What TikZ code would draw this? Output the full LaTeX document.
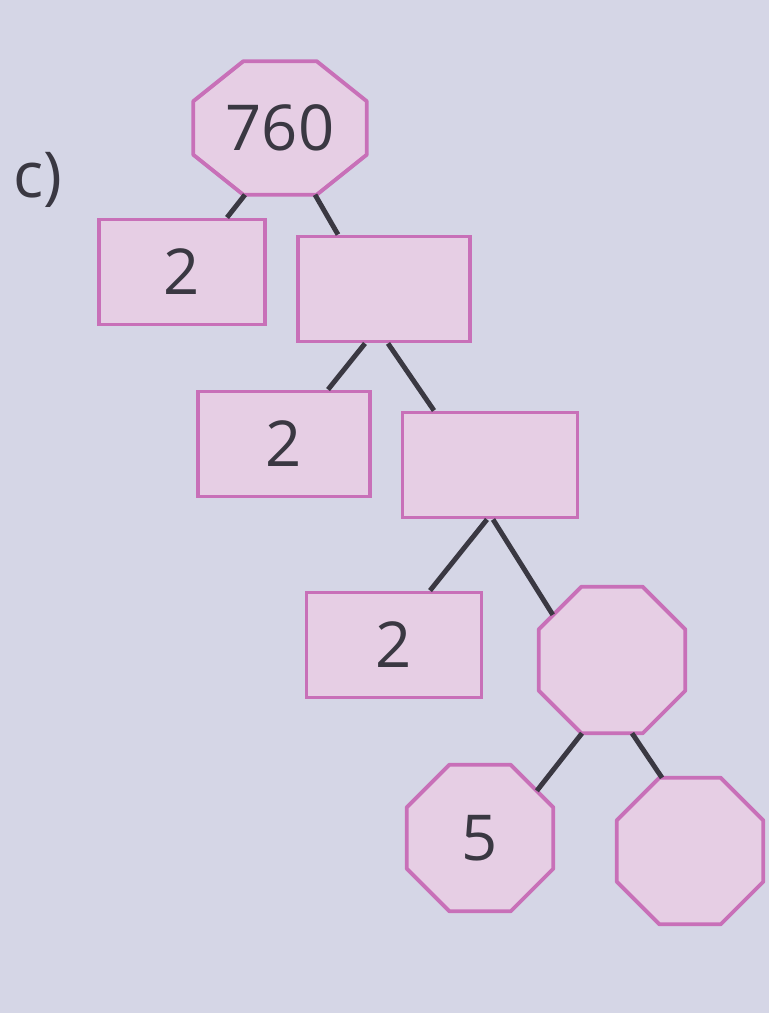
\documentclass[tikz,border=0pt]{standalone}
\usepackage{fontspec}
\setmainfont{Open Sans}
\definecolor{pagebg}{RGB}{213,214,230}
\definecolor{boxfill}{RGB}{230,206,228}
\definecolor{boxline}{RGB}{200,112,184}
\definecolor{ink}{RGB}{58,56,66}
\pgfdeclarelayer{octlayer}
\pgfsetlayers{octlayer,main}
\newcommand{\octfill}[3]{%
  \filldraw[octline] ([xshift=#2]#1.north west) -- ([xshift=-#2]#1.north east)
    -- ([yshift=-#3]#1.north east) -- ([yshift=#3]#1.south east)
    -- ([xshift=-#2]#1.south east) -- ([xshift=#2]#1.south west)
    -- ([yshift=#3]#1.south west) -- ([yshift=-#3]#1.north west) -- cycle;}
\begin{document}
\begin{tikzpicture}[x=0.01cm, y=-0.01cm,
    every node/.style={text=ink, font=\fontsize{18}{20}\selectfont},
    factorbox/.style={draw=boxline, fill=boxfill, line width=1.1pt, inner sep=0pt,
        minimum width=1.72cm, minimum height=1.05cm},
    factoroct/.style={inner sep=0pt, minimum width=1.45cm, minimum height=1.45cm},
    octline/.style={draw=boxline, fill=boxfill, line width=1.1pt, line join=round},
    branch/.style={draw=ink, line width=1.4pt}]
    \node[factoroct, minimum width=1.72cm, minimum height=1.32cm] (n760) at (280,128) {760};
    \node (lbl) at (38,180) {c)};
    \node[factorbox, minimum width=1.66cm] (r1) at (182,272) {2};
    \node[factorbox] (r2) at (384,289) {};
    \node[factorbox] (r3) at (284,444) {2};
    \node[factorbox, minimum width=1.75cm] (r4) at (490,465) {};
    \node[factorbox, minimum width=1.75cm] (r5) at (394,645) {2};
    \node[factoroct] (o2) at (612,660) {};
    \node[factoroct] (o3) at (480,838) {5};
    \node[factoroct] (o4) at (690,851) {};
    \begin{pgfonlayer}{octlayer}
        \fill[pagebg] (0,0) rectangle (769,1013);
        \octfill{n760}{0.5cm}{0.4cm}
        \octfill{o2}{0.425cm}{0.425cm}
        \octfill{o3}{0.425cm}{0.425cm}
        \octfill{o4}{0.425cm}{0.425cm}
    \end{pgfonlayer}
    \draw[branch] ([xshift=-0.35cm]n760.south) -- ([xshift=0.45cm]r1.north);
    \draw[branch] ([xshift=0.35cm]n760.south) -- ([xshift=-0.46cm]r2.north);
    \draw[branch] ([xshift=-0.19cm]r2.south) -- ([xshift=0.44cm]r3.north);
    \draw[branch] ([xshift=0.04cm]r2.south) -- ([xshift=-0.56cm]r4.north);
    \draw[branch] ([xshift=-0.03cm]r4.south) -- ([xshift=0.36cm]r5.north);
    \draw[branch] ([xshift=0.03cm]r4.south) -- ([xshift=0.14cm, yshift=-0.28cm]o2.north west);
    \draw[branch] ([xshift=-0.30cm]o2.south) -- ([xshift=-0.164cm, yshift=-0.26cm]o3.north east);
    \draw[branch] ([xshift=0.2cm]o2.south) -- ([xshift=-0.28cm]o4.north);
\end{tikzpicture}
\end{document}
